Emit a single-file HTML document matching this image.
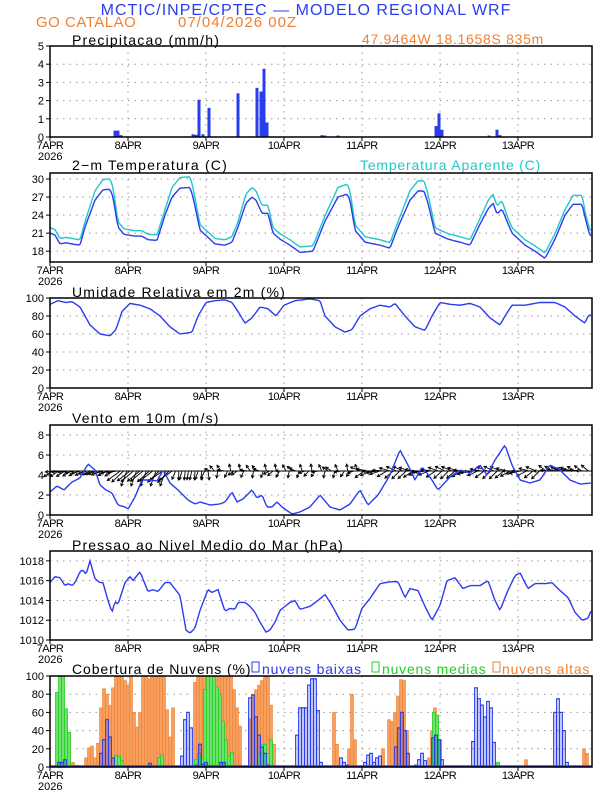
<!DOCTYPE html>
<html><head><meta charset="utf-8"><style>
body{margin:0;background:#fff}
svg{display:block;font-family:"Liberation Sans",sans-serif}
</style></head><body>
<svg id="s" width="612" height="792" xmlns="http://www.w3.org/2000/svg">
<rect width="612" height="792" fill="#fff"/>
<text x="306" y="15" text-anchor="middle" font-size="16" fill="#2a3cf0" letter-spacing="1">MCTIC/INPE/CPTEC — MODELO REGIONAL WRF</text>
<text x="36" y="27" font-size="15" fill="#f08030" letter-spacing="0.5">GO CATALAO</text>
<text x="178" y="27" font-size="15" fill="#f08030" letter-spacing="1">07/04/2026 00Z</text>
<text x="362" y="44" font-size="14" fill="#f08030" letter-spacing="0.7">47.9464W 18.1658S 835m</text>
<text x="72" y="45" font-size="14" letter-spacing="1.2">Precipitacao (mm/h)</text>
<text x="72" y="170" font-size="14" letter-spacing="1.2">2−m Temperatura (C)</text>
<text x="360" y="170" font-size="14" fill="#20c8c8" letter-spacing="0.8">Temperatura Aparente (C)</text>
<text x="72" y="297" font-size="14" letter-spacing="1.2">Umidade Relativa em 2m (%)</text>
<text x="72" y="423" font-size="14" letter-spacing="1.2">Vento em 10m (m/s)</text>
<text x="72" y="550" font-size="14" letter-spacing="1.1">Pressao ao Nivel Medio do Mar (hPa)</text>
<text x="72" y="674" font-size="14" letter-spacing="0.9">Cobertura de Nuvens (%)</text>
<rect x="252" y="662" width="7" height="10" fill="none" stroke="#2a3cf0"/><text x="262" y="674" font-size="14" fill="#2a3cf0" letter-spacing="0.8">nuvens baixas</text>
<rect x="372" y="662" width="7" height="10" fill="none" stroke="#20d020"/><text x="382" y="674" font-size="14" fill="#20d020" letter-spacing="0.8">nuvens medias</text>
<rect x="493" y="662" width="7" height="10" fill="none" stroke="#f08030"/><text x="502" y="674" font-size="14" fill="#f08030" letter-spacing="0.8">nuvens altas</text>
<g id="g"></g>
</svg>
<script>
const NS="http://www.w3.org/2000/svg",G=document.getElementById('g');
function el(t,a,txt){const e=document.createElementNS(NS,t);for(const k in a)e.setAttribute(k,a[k]);if(txt!=null)e.textContent=txt;G.appendChild(e);return e;}
const X0=50,X1=592;
function panel(top,bot,vmin,vmax,ticks){
  const Y=v=>bot-(v-vmin)/(vmax-vmin)*(bot-top);
  for(const t of ticks){const y=Y(t);if(t!==vmin&&y>top+1)el('line',{x1:X0,x2:X1,y1:y,y2:y,stroke:'#999','stroke-dasharray':'1.5,5'});
    el('line',{x1:X0-4,x2:X0,y1:y,y2:y,stroke:'#000'});
    el('text',{x:X0-6,y:y+4,'font-size':11,'text-anchor':'end'},String(t));}
  const days=['7APR','8APR','9APR','10APR','11APR','12APR','13APR'];
  days.forEach((d,i)=>{const x=X0+78*i;if(i>0)el('line',{x1:x,x2:x,y1:top,y2:bot,stroke:'#999','stroke-dasharray':'1.5,5'});
    el('line',{x1:x,x2:x,y1:bot,y2:bot+4,stroke:'#000'});
    el('text',{x:x,y:bot+12,'font-size':11,'text-anchor':'middle','letter-spacing':'-0.5'},d);});
  el('text',{x:X0-12,y:bot+23,'font-size':11},'2026');
  return Y;
}
function frame(top,bot){el('rect',{x:X0,y:top,width:X1-X0,height:bot-top,fill:'none',stroke:'#000','stroke-width':1.5});}
function interp(pts,x){for(let i=0;i<pts.length-1;i++){if(x>=pts[i][0]&&x<=pts[i+1][0]){const f=(x-pts[i][0])/(pts[i+1][0]-pts[i][0]);return pts[i][1]+f*(pts[i+1][1]-pts[i][1]);}}return pts[pts.length-1][1];}
function line(pts,Y,col){let d='';for(let x=X0;x<=X1;x+=1.6){d+=(d?'L':'M')+x.toFixed(1)+','+Y(interp(pts,x)).toFixed(1);}el('path',{d:d,fill:'none',stroke:col,'stroke-width':1.4});}
let Y=panel(46,137,0,5,[0,1,2,3,4,5]);
[[115,.35],[118,.35],[121,.1],[193,.15],[196,.12],[199,2.05],[203,.15],[209,1.6],[238,2.4],[257,2.7],[261,2.5],[264,3.75],[267,.8],[322,.1],[325,.08],[338,.08],[436,.6],[439,1.3],[442,.4],[489,.08],[497,.4],[500,.1],[72,.03],[95,.03],[175,.03],[355,.03],[410,.03],[560,.03]].forEach(([x,v])=>el('rect',{x:x-1.5,y:Y(v),width:3,height:137-Y(v),fill:'#2a3cf0'}));
frame(46,137);
Y=panel(173,262,16.2,31,[18,21,24,27,30]);
const T=[[50,21],[55,20.7],[60,19.2],[66,19.4],[72,19.2],[80,19],[85,22],[95,26.5],[103,28.2],[110,28.3],[113,27],[118,22],[124,20.8],[135,20.5],[142,20.5],[148,19.9],[157,19.8],[165,24],[172,27],[180,28.5],[190,28.6],[193,27],[200,21.5],[210,20],[215,19.2],[225,19],[232,19.5],[238,22],[246,26],[252,27],[256,26.5],[262,24.3],[268,24.3],[273,21],[280,20],[290,19],[300,17.8],[313,18],[325,23],[338,27],[347,27.5],[350,26.5],[355,21.5],[365,19.5],[380,19],[390,18.5],[398,22],[410,26.5],[418,28],[424,28],[428,26],[435,21],[448,20],[460,19.5],[470,19],[480,22.5],[488,25],[493,26],[497,24.2],[502,25],[507,23],[512,21],[525,19],[535,18],[545,16.8],[555,20],[565,24],[573,25.8],[582,25.8],[586,23],[590,20.5],[592,20.5]];
const AT=T.map(([x,v])=>[x,v+(v>24?1.3+(v-24)*0.1:0.9)]);
line(AT,Y,'#20c8c8');line(T,Y,'#2a3cf0');frame(173,262);
Y=panel(298,388,0,100,[0,20,40,60,80,100]);
line([[50,93],[58,97],[66,95],[72,96],[80,90],[90,70],[100,60],[110,58],[116,65],[122,85],[130,94],[140,92],[150,88],[160,80],[170,68],[180,60],[192,62],[198,80],[206,95],[215,97],[225,98],[232,95],[238,85],[245,72],[252,78],[260,90],[268,88],[276,80],[284,92],[295,97],[310,99],[320,97],[325,80],[335,68],[345,62],[352,65],[360,80],[370,88],[380,92],[390,90],[395,94],[405,80],[415,68],[425,64],[432,80],[440,95],[450,93],[460,92],[470,94],[480,90],[490,78],[500,70],[505,80],[512,92],[525,92],[540,95],[555,95],[565,90],[575,80],[585,72],[588,80],[592,82]],Y,'#2a3cf0');
frame(298,388);
Y=panel(425,515,0,9,[0,2,4,6,8]);
const y44=Y(4.4);
el('line',{x1:X0,x2:X1,y1:y44,y2:y44,stroke:'#000'});
for(let x=52;x<590;x+=3.25){
  let ang,len;
  if(x<120){ang=200+Math.sin(x)*15;len=10;}
  else if(x<175){ang=230+Math.sin(x*1.3)*20;len=16;}
  else if(x<210){ang=260+Math.sin(x)*30;len=9;}
  else if(x<360){ang=180+Math.sin(x*0.7)*80;len=7;}
  else if(x<540){ang=190+Math.sin(x*0.9)*35;len=11;}
  else{ang=160+Math.sin(x)*30;len=9;}
  const a=ang*Math.PI/180,dx=Math.cos(a)*len,dy=-Math.sin(a)*len;
  const ex=x+dx,ey=y44+dy;
  el('line',{x1:x,y1:y44,x2:ex,y2:ey,stroke:'#000','stroke-width':0.9});
  const h1=a+Math.PI-0.5,h2=a+Math.PI+0.5;
  el('path',{d:`M${ex+Math.cos(h1)*3},${ey-Math.sin(h1)*3}L${ex},${ey}L${ex+Math.cos(h2)*3},${ey-Math.sin(h2)*3}`,fill:'none',stroke:'#000','stroke-width':0.9});
}
line([[50,2.3],[57,2.9],[64,2.5],[72,3.3],[80,3.7],[88,5.1],[95,4.5],[100,3],[106,2.5],[112,2.2],[118,1],[125,0.8],[128,0.6],[135,1.8],[142,3.5],[150,3.5],[157,3.4],[163,4.5],[170,3.2],[178,2.5],[188,1.5],[195,1.1],[200,1.3],[210,1],[220,1.1],[225,1.3],[232,2.3],[237,1.3],[243,1.6],[252,2.5],[257,1.7],[262,2],[267,0.8],[272,0.8],[277,1.3],[282,0.8],[292,0.1],[300,0.3],[310,0.8],[320,2],[330,0.8],[340,0.5],[350,1.1],[360,2.5],[368,1],[378,2],[390,4],[400,6.5],[408,5],[415,3.5],[422,4.8],[430,3.8],[438,2.5],[450,3.8],[460,4.5],[470,4.2],[480,5],[487,4],[495,5.5],[505,7],[512,5],[520,3.5],[530,3.2],[540,3.5],[550,5],[560,4.5],[570,3.5],[580,3.1],[592,3.2]],Y,'#2a3cf0');
frame(425,515);
Y=panel(551,640,1010,1019,[1010,1012,1014,1016,1018]);
line([[50,1015.8],[55,1016.4],[60,1016.3],[65,1015.5],[68,1015.7],[72,1015.5],[75,1015.8],[80,1016.9],[83,1017.1],[86,1016.6],[90,1018],[95,1016.2],[100,1015.8],[103,1015.8],[108,1014],[112,1012.8],[115,1013.9],[118,1013.6],[125,1015.8],[130,1016.4],[133,1016],[140,1016.9],[148,1014.9],[153,1015.1],[158,1014.9],[165,1015.8],[170,1015.8],[180,1014.5],[186,1011],[190,1010.7],[195,1011.2],[200,1013],[208,1015.1],[212,1014.8],[218,1015.1],[225,1012.9],[230,1013.2],[235,1013.1],[238,1013.8],[245,1013.8],[250,1013.4],[255,1012.8],[260,1011.8],[266,1010.8],[270,1011],[275,1011.8],[280,1013],[285,1013.4],[290,1013.8],[295,1014],[300,1013.1],[310,1013.4],[318,1014],[325,1014.6],[332,1013.5],[340,1012],[348,1011],[355,1011.1],[362,1013.2],[370,1014.2],[380,1015.7],[385,1015.8],[392,1015.9],[398,1015.9],[405,1014.3],[410,1015.2],[418,1015],[425,1013.4],[432,1012],[440,1013.5],[447,1016],[455,1016.3],[463,1015.2],[470,1015.5],[480,1015.5],[488,1016],[495,1014],[500,1013],[507,1014.8],[515,1016.5],[520,1016.8],[528,1015.2],[535,1015.7],[545,1015.7],[552,1015.8],[560,1015],[568,1014.3],[575,1012.8],[582,1012],[588,1012.2],[592,1013.2]],Y,'#2a3cf0');
frame(551,640);
Y=panel(676,767,0,100,[0,20,40,60,80,100]);
const OR=[[66,55],[69,38],[73,5],[77,2],[86,10],[89,21],[92,23],[95,10],[98,26],[101,65],[104,86],[107,80],[110,68],[113,87],[116,100],[119,100],[122,100],[125,95],[128,90],[131,100],[134,60],[137,44],[140,60],[143,100],[146,100],[149,97],[152,100],[155,100],[158,100],[161,100],[164,100],[167,63],[170,33],[173,65],[195,93],[198,100],[201,100],[204,100],[207,100],[210,100],[213,100],[216,100],[219,100],[222,100],[225,100],[228,100],[231,100],[234,85],[237,65],[240,45],[250,53],[253,80],[256,85],[259,90],[262,95],[265,100],[268,100],[271,68],[274,25],[334,60],[337,25],[349,20],[352,80],[355,30],[383,20],[389,52],[392,50],[395,60],[398,78],[401,96],[404,95],[407,40],[429,10],[432,40],[435,65],[526,8],[584,20],[587,15]];
const GR=[[57,82],[60,100],[63,100],[66,64],[69,38],[116,13],[119,12],[122,7],[159,10],[162,13],[196,8],[199,15],[202,10],[205,85],[208,100],[211,100],[214,100],[217,88],[220,80],[223,50],[226,30],[229,12],[232,16],[259,15],[262,25],[265,25],[268,15],[271,30],[434,60],[437,57],[440,30],[498,5]];
const BL=[[59,5],[62,5],[65,8],[101,15],[104,30],[107,52],[110,33],[113,10],[150,4],[182,12],[185,52],[188,60],[191,43],[197,2],[200,25],[203,3],[206,5],[221,5],[224,5],[250,76],[253,79],[256,55],[259,35],[262,22],[265,15],[268,2],[297,35],[300,65],[303,65],[306,65],[309,90],[312,97],[315,97],[318,62],[321,5],[341,10],[344,5],[347,2],[365,5],[368,13],[371,15],[374,5],[377,10],[380,12],[396,22],[399,43],[402,60],[405,40],[408,15],[416,2],[419,8],[422,15],[425,7],[433,32],[436,35],[439,30],[442,8],[473,28],[476,87],[479,75],[482,68],[485,55],[488,72],[491,65],[494,27],[555,60],[558,75],[561,60],[564,40],[567,5]];
OR.forEach(([x,v])=>el('rect',{x:x-1.5,y:Y(v),width:3,height:767-Y(v),fill:'#f5a060',stroke:'#f08030','stroke-width':0.6}));
GR.forEach(([x,v])=>el('rect',{x:x-1.5,y:Y(v),width:3,height:767-Y(v),fill:'#70e070',stroke:'#20d020','stroke-width':0.8}));
BL.forEach(([x,v])=>el('rect',{x:x-1.3,y:Y(v),width:2.6,height:767-Y(v),fill:'none',stroke:'#2a3cf0','stroke-width':1.2}));
el('line',{x1:X0,x2:X1,y1:766,y2:766,stroke:'#2a3cf0','stroke-width':1.5});
frame(676,767);
</script>
</body></html>
